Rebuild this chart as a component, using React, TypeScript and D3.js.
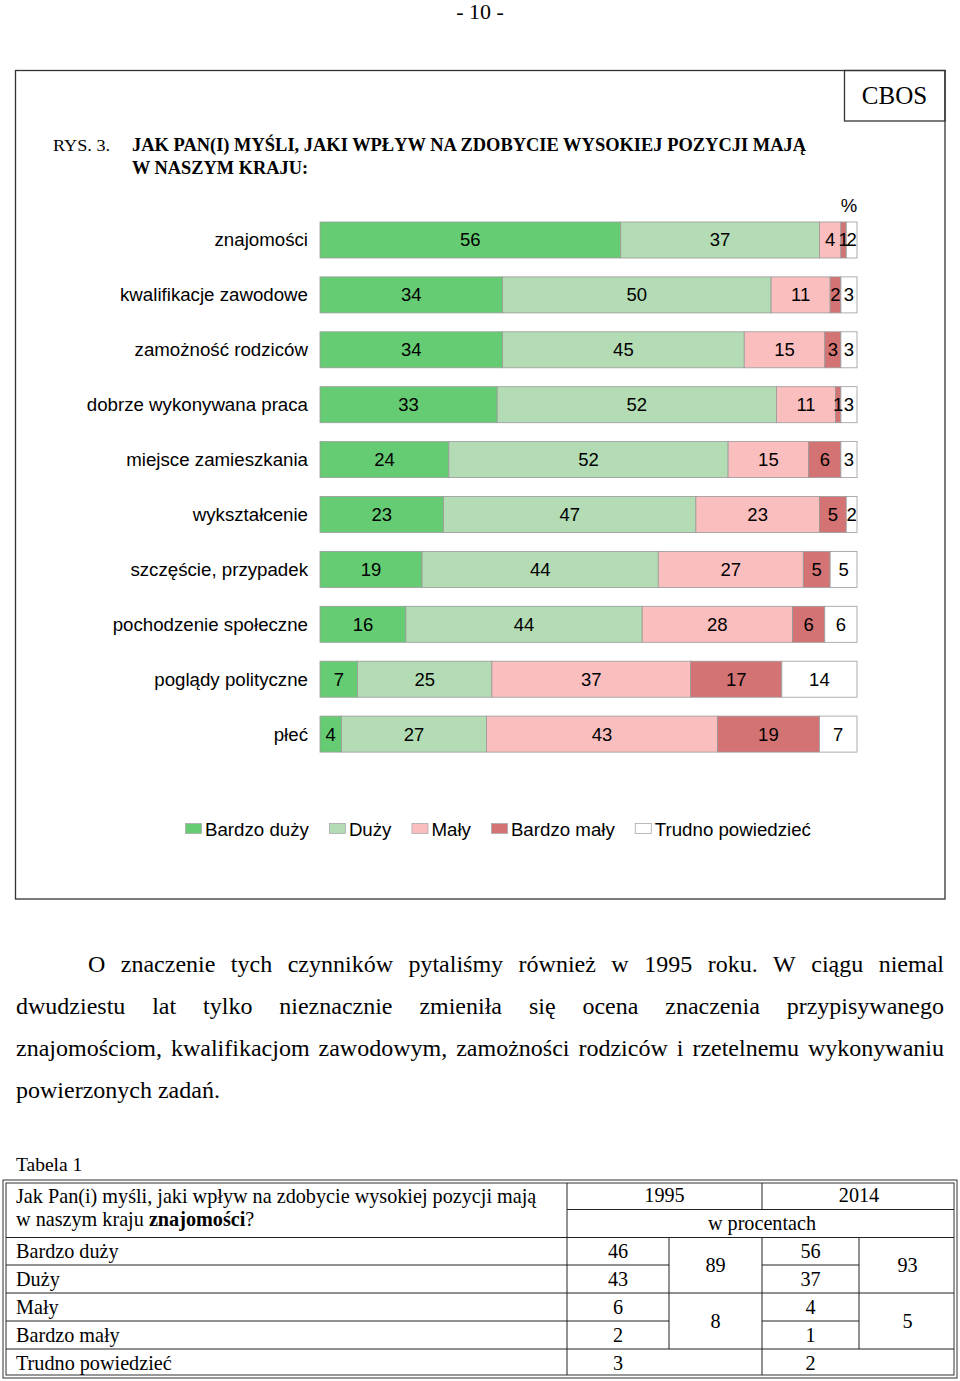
import React from 'react';
import * as d3 from 'd3';

const categories = [
  'znajomości',
  'kwalifikacje zawodowe',
  'zamożność rodziców',
  'dobrze wykonywana praca',
  'miejsce zamieszkania',
  'wykształcenie',
  'szczęście, przypadek',
  'pochodzenie społeczne',
  'poglądy polityczne',
  'płeć',
];
const seriesNames = ['Bardzo duży', 'Duży', 'Mały', 'Bardzo mały', 'Trudno powiedzieć'];
const bardzoDuzy = [56, 34, 34, 33, 24, 23, 19, 16, 7, 4];
const duzy = [37, 50, 45, 52, 52, 47, 44, 44, 25, 27];
const maly = [4, 11, 15, 11, 15, 23, 27, 28, 37, 43];
const bardzoMaly = [1, 2, 3, 1, 6, 5, 5, 6, 17, 19];
const trudno = [2, 3, 3, 3, 3, 2, 5, 6, 14, 7];
const seriesColors = ['#66cc73', '#b3dcb4', '#fbbebe', '#d47374', '#ffffff'];

const tableRows = ['Bardzo duży', 'Duży', 'Mały', 'Bardzo mały', 'Trudno powiedzieć'];
const values1995 = [46, 43, 6, 2, 3];
const values2014 = [56, 37, 4, 1, 2];
const sums1995 = [89, 8];
const sums2014 = [93, 5];

const paragraphLines = [
  'O znaczenie tych czynników pytaliśmy również w 1995 roku. W ciągu niemal',
  'dwudziestu lat tylko nieznacznie zmieniła się ocena znaczenia przypisywanego',
  'znajomościom, kwalifikacjom zawodowym, zamożności rodziców i rzetelnemu wykonywaniu',
  'powierzonych zadań.',
];

const SANS = "'Liberation Sans', Arial, sans-serif";
const SERIF = "'Liberation Serif', 'Times New Roman', serif";

let ctx: CanvasRenderingContext2D | null = null;
function measure(text: string, font: string): number {
  if (!ctx) ctx = document.createElement('canvas').getContext('2d');
  if (!ctx) return text.length * 8;
  ctx.font = font;
  return ctx.measureText(text).width;
}

function JustifiedLine({ text, x0, x1, y, size, justify }: any) {
  const font = `${size}px ${SERIF}`;
  const words = text.split(' ');
  const widths = words.map((w: string) => measure(w, font));
  const total = widths.reduce((a: number, b: number) => a + b, 0);
  const space = measure(' ', font);
  const gap = justify && words.length > 1 ? (x1 - x0 - total) / (words.length - 1) : space;
  let x = x0;
  return (
    <g>
      {words.map((w: string, i: number) => {
        const el = (
          <text key={i} x={x} y={y} fontFamily={SERIF} fontSize={size} fill="#000">
            {w}
          </text>
        );
        x += widths[i] + gap;
        return el;
      })}
    </g>
  );
}

export default function App() {
  const seriesData = [bardzoDuzy, duzy, maly, bardzoMaly, trudno];
  const rows = categories.map((c, i) => {
    const o: any = { cat: c };
    seriesNames.forEach((s, j) => (o[s] = seriesData[j][i]));
    return o;
  });
  const stacked = d3.stack().keys(seriesNames)(rows);

  const x = d3.scaleLinear().domain([0, 100]).range([320, 857]);
  const y = d3
    .scaleBand()
    .domain(categories)
    .range([203.1, 771])
    .paddingInner(0.344)
    .paddingOuter(0.344);
  const bw = y.bandwidth();

  const labelSize = 18.7;
  const valueSize = 18.5;

  // legend layout
  const legendSize = 18.7;
  const legendFont = `${legendSize}px ${SANS}`;
  let lx = 185;
  const legendItems = seriesNames.map((s, i) => {
    const item = { name: s, x: lx, color: seriesColors[i] };
    lx += 16 + 4 + measure(s, legendFont) + 20;
    return item;
  });

  // table geometry
  const tL = 4, tR = 956, tT = 1181, tB = 1377;
  const c1 = 567, c2 = 669, c3 = 762, c4 = 859;
  const rY = [1237.5, 1265, 1293, 1321, 1349, 1377];
  const tfs = 20.2;

  return (
    <div style={{ position: 'absolute', left: 0, top: 0 }}>
      <svg width={960} height={1381} style={{ display: 'block', background: '#fff' }}>
        <rect x={0} y={0} width={960} height={1381} fill="#fff" />
        <text x={480} y={19} textAnchor="middle" fontFamily={SERIF} fontSize={22}>
          - 10 -
        </text>

        {/* chart frame */}
        <rect x={15.5} y={70.5} width={929.5} height={828.5} fill="none" stroke="#333" strokeWidth={1.3} />
        <rect x={844.5} y={70.5} width={100.5} height={50.5} fill="none" stroke="#333" strokeWidth={1.3} />
        <text x={894.5} y={104} textAnchor="middle" fontFamily={SERIF} fontSize={25}>
          CBOS
        </text>

        <text x={53} y={151} fontFamily={SERIF} fontSize={17} textLength={57} lengthAdjust="spacingAndGlyphs">
          RYS. 3.
        </text>
        <text x={132} y={151} fontFamily={SERIF} fontSize={18} fontWeight="bold" textLength={674} lengthAdjust="spacingAndGlyphs">
          JAK PAN(I) MYŚLI, JAKI WPŁYW NA ZDOBYCIE WYSOKIEJ POZYCJI MAJĄ
        </text>
        <text x={132} y={174} fontFamily={SERIF} fontSize={18} fontWeight="bold" textLength={176} lengthAdjust="spacingAndGlyphs">
          W NASZYM KRAJU:
        </text>

        <text x={849} y={212} textAnchor="middle" fontFamily={SANS} fontSize={18.5}>
          %
        </text>

        {/* category labels */}
        {categories.map((c) => (
          <text
            key={c}
            x={308}
            y={(y(c) as number) + bw / 2 + 6.5}
            textAnchor="end"
            fontFamily={SANS}
            fontSize={labelSize}
            fill="#000"
          >
            {c}
          </text>
        ))}

        {/* bars */}
        {stacked.map((s: any, si: number) => (
          <g key={s.key}>
            {s.map((d: any, i: number) => (
              <rect
                key={i}
                x={x(d[0])}
                y={y(categories[i]) as number}
                width={x(d[1]) - x(d[0])}
                height={bw}
                fill={seriesColors[si]}
                stroke="#9a9a9a"
                strokeWidth={0.8}
              />
            ))}
          </g>
        ))}
        {stacked.map((s: any, si: number) => (
          <g key={'l' + s.key}>
            {s.map((d: any, i: number) => (
              <text
                key={i}
                x={(x(d[0]) + x(d[1])) / 2}
                y={(y(categories[i]) as number) + bw / 2 + 6.5}
                textAnchor="middle"
                fontFamily={SANS}
                fontSize={valueSize}
                fill="#000"
              >
                {d[1] - d[0]}
              </text>
            ))}
          </g>
        ))}

        {/* legend */}
        {legendItems.map((it) => (
          <g key={it.name}>
            <rect x={it.x + 0.5} y={823.5} width={16} height={10} fill={it.color} stroke="#aaa" strokeWidth={0.8} />
            <text x={it.x + 20} y={835.5} fontFamily={SANS} fontSize={legendSize} fill="#000">
              {it.name}
            </text>
          </g>
        ))}

        {/* paragraph */}
        <JustifiedLine text={paragraphLines[0]} x0={88} x1={944} y={972} size={24} justify />
        <JustifiedLine text={paragraphLines[1]} x0={16} x1={944} y={1014} size={24} justify />
        <JustifiedLine text={paragraphLines[2]} x0={16} x1={944} y={1056} size={24} justify />
        <JustifiedLine text={paragraphLines[3]} x0={16} x1={944} y={1098} size={24} justify={false} />

        {/* table */}
        <text x={16} y={1171} fontFamily={SERIF} fontSize={19.5}>
          Tabela 1
        </text>
        <rect x={tL - 1} y={tT - 1} width={tR - tL + 2} height={tB - tT + 2} fill="none" stroke="#333" strokeWidth={1} />
        <rect x={tL + 2} y={tT + 2} width={tR - tL - 4} height={tB - tT - 4} fill="none" stroke="#333" strokeWidth={1} />
        <g stroke="#222" strokeWidth={1}>
          <line x1={c1} x2={c1} y1={tT + 2} y2={tB - 2} />
          <line x1={c3} x2={c3} y1={tT + 2} y2={1209.5} />
          <line x1={c3} x2={c3} y1={rY[0]} y2={tB - 2} />
          <line x1={c2} x2={c2} y1={rY[0]} y2={rY[4]} />
          <line x1={c4} x2={c4} y1={rY[0]} y2={rY[4]} />
          <line x1={c1} x2={tR - 2} y1={1209.5} y2={1209.5} />
          <line x1={tL + 2} x2={tR - 2} y1={rY[0]} y2={rY[0]} />
          <line x1={tL + 2} x2={tR - 2} y1={rY[2]} y2={rY[2]} />
          <line x1={tL + 2} x2={tR - 2} y1={rY[4]} y2={rY[4]} />
          <line x1={tL + 2} x2={c2} y1={rY[1]} y2={rY[1]} />
          <line x1={tL + 2} x2={c2} y1={rY[3]} y2={rY[3]} />
          <line x1={c3} x2={c4} y1={rY[1]} y2={rY[1]} />
          <line x1={c3} x2={c4} y1={rY[3]} y2={rY[3]} />
        </g>
        <text x={16} y={1203} fontFamily={SERIF} fontSize={tfs}>
          Jak Pan(i) myśli, jaki wpływ na zdobycie wysokiej pozycji mają
        </text>
        <text x={16} y={1226} fontFamily={SERIF} fontSize={tfs}>
          w naszym kraju <tspan fontWeight="bold">znajomości</tspan>?
        </text>
        <text x={(c1 + c3) / 2} y={1202} textAnchor="middle" fontFamily={SERIF} fontSize={tfs}>
          1995
        </text>
        <text x={(c3 + tR) / 2} y={1202} textAnchor="middle" fontFamily={SERIF} fontSize={tfs}>
          2014
        </text>
        <text x={c3} y={1230} textAnchor="middle" fontFamily={SERIF} fontSize={tfs}>
          w procentach
        </text>
        {tableRows.map((r, i) => {
          const cy = (rY[i] + rY[i + 1]) / 2 + 6.5;
          return (
            <g key={r}>
              <text x={16} y={cy} fontFamily={SERIF} fontSize={tfs}>
                {r}
              </text>
              <text x={(c1 + c2) / 2} y={cy} textAnchor="middle" fontFamily={SERIF} fontSize={tfs}>
                {values1995[i]}
              </text>
              <text x={(c3 + c4) / 2} y={cy} textAnchor="middle" fontFamily={SERIF} fontSize={tfs}>
                {values2014[i]}
              </text>
            </g>
          );
        })}
        {[0, 1].map((k) => {
          const cy = (rY[k * 2] + rY[k * 2 + 2]) / 2 + 6.5;
          return (
            <g key={'s' + k}>
              <text x={(c2 + c3) / 2} y={cy} textAnchor="middle" fontFamily={SERIF} fontSize={tfs}>
                {sums1995[k]}
              </text>
              <text x={(c4 + tR) / 2} y={cy} textAnchor="middle" fontFamily={SERIF} fontSize={tfs}>
                {sums2014[k]}
              </text>
            </g>
          );
        })}
      </svg>
    </div>
  );
}
